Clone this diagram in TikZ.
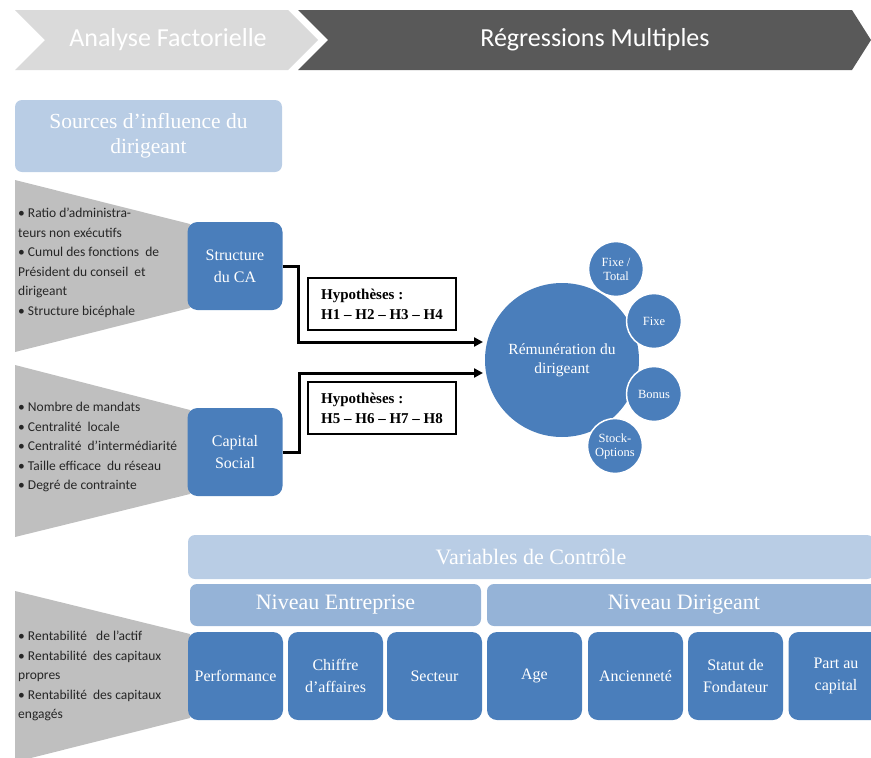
\documentclass[tikz,border=0pt]{standalone}
\usepackage{fontspec}
\setmainfont{Liberation Serif}
\newfontfamily\calibri{Carlito}
\usepackage{tikz}
\usetikzlibrary{arrows.meta}
\definecolor{chevclair}{HTML}{DADADA}
\definecolor{chevfonce}{HTML}{595959}
\definecolor{bleupale}{HTML}{B9CDE5}
\definecolor{bleumoyen}{HTML}{95B3D7}
\definecolor{bleu}{HTML}{4A7EBB}
\definecolor{gristrap}{HTML}{BFBFBF}

\begin{document}
\begin{tikzpicture}[x=1pt, y=-1pt,
    bloc/.style={fill=bleu, rounded corners=10pt, text=white, align=center,
      minimum width=95pt, minimum height=88pt, inner sep=2pt,
      font=\fontsize{16}{22}\selectfont},
    bandeau/.style={rounded corners=7pt, text=white, align=center, inner sep=2pt,
      font=\fontsize{22}{25}\selectfont},
    hypo/.style={draw=black, line width=1.2pt, fill=white, align=left,
      minimum width=148pt, minimum height=52pt,
      font=\bfseries\fontsize{15}{20}\selectfont},
    puce/.style={anchor=west, align=left, text=black!85, inner sep=0pt,
      font=\calibri\fontsize{13.5}{19.5}\selectfont},
    rond/.style={circle, fill=bleu, draw=white, line width=1.5pt, text=white,
      align=center, minimum size=55pt, inner sep=0pt,
      font=\fontsize{12.5}{14}\selectfont},
    fleche/.style={line width=3pt, -{Triangle[length=9pt,width=9pt]}}
  ]
  \useasboundingbox (0,0) rectangle (871,758);
  \clip (0,0) rectangle (871,758);

  % chevrons du haut
  \fill[chevclair] (15,10) -- (288,10) -- (318,40) -- (288,70) -- (15,70) -- (45,40) -- cycle;
  \fill[chevfonce] (298,10) -- (852,10) -- (871,40) -- (852,70) -- (298,70) -- (328,40) -- cycle;
  \node (af) at (168,40) [text=white, font=\calibri\fontsize{26}{28}\selectfont] {Analyse Factorielle};
  \node (rm) at (595,40) [text=white, font=\calibri\fontsize{26}{28}\selectfont] {Régressions Multiples};

  \node (src) at (148.5,136) [bandeau, fill=bleupale, minimum width=267pt, minimum height=72pt,
    font=\fontsize{21.5}{25}\selectfont] {Sources d’influence du\\dirigeant};

  % trapezes gris
  \fill[gristrap] (15,180) -- (190,224) -- (190,308) -- (15,352) -- cycle;
  \fill[gristrap] (15,365) -- (190,410) -- (190,494) -- (15,537) -- cycle;
  \fill[gristrap] (15,591) -- (190,634) -- (190,718) -- (15,762) -- cycle;

  \node (liste1) at (18,263) [puce]
    {• Ratio d’administra-\\teurs non exécutifs\\• Cumul des fonctions\ \ de\\Président du conseil\ \ et\\dirigeant\\• Structure bicéphale};
  \node (liste2) at (18,447) [puce]
    {• Nombre de mandats\\• Centralité\ \ locale\\• Centralité\ \ d’intermédiarité\\• Taille efficace\ \ du réseau\\• Degré de contrainte};
  \node (liste3) at (18,676) [puce]
    {• Rentabilité\ \ \ de l’actif\\• Rentabilité\ \ des capitaux\\propres\\• Rentabilité\ \ des capitaux\\engagés};

  \node (sca) at (235,266) [bloc] {Structure\\du CA};
  \node (cs) at (235,452) [bloc] {Capital\\Social};

  % fleches vers la remuneration
  \coordinate (bout1) at (483,342);
  \coordinate (bout2) at (483,373);
  \draw[fleche] (sca.east) -- ++(16,0) |- (bout1);
  \draw[fleche] (cs.east) -- ++(17,0) |- (bout2);

  \node (hyp1) at (382,304) [hypo] {Hypothèses :\\H1 – H2 – H3 – H4};
  \node (hyp2) at (382,408) [hypo] {Hypothèses :\\H5 – H6 – H7 – H8};

  \node (rem) at (562,360) [circle, fill=bleu, minimum size=154pt, inner sep=0pt, text=white,
    align=center, font=\fontsize{15.5}{19}\selectfont] {Rémunération du\\dirigeant};
  \node (fixtot) at (616,269) [rond] {Fixe /\\Total};
  \node (fixe) at (654,321) [rond] {Fixe};
  \node (bonus) at (654,394) [rond] {Bonus};
  \node (stock) at (615,446) [rond] {Stock-\\Options};

  % variables de controle
  \node (vdc) at (531,557) [bandeau, fill=bleupale, minimum width=686pt, minimum height=44pt]
    {Variables de Contrôle};
  \node (ne) at (335.5,605) [bandeau, fill=bleumoyen, minimum width=291pt, minimum height=42pt]
    {Niveau Entreprise};
  \node (nd) at (684,605) [bandeau, fill=bleumoyen, minimum width=394pt, minimum height=42pt]
    {Niveau Dirigeant};

  \node (perf) at (235.5,676) [bloc] {Performance};
  \node (ca) at (335.5,676) [bloc] {Chiffre\\d’affaires};
  \node (sect) at (434.5,676) [bloc] {Secteur};
  \node (age) at (534.5,676) [bloc] {Age};
  \node (anc) at (635.5,676) [bloc] {Ancienneté};
  \node (fond) at (735.5,676) [bloc] {Statut de\\Fondateur};
  \node (part) at (836,676) [bloc] {Part au\\capital};
\end{tikzpicture}
\end{document}
